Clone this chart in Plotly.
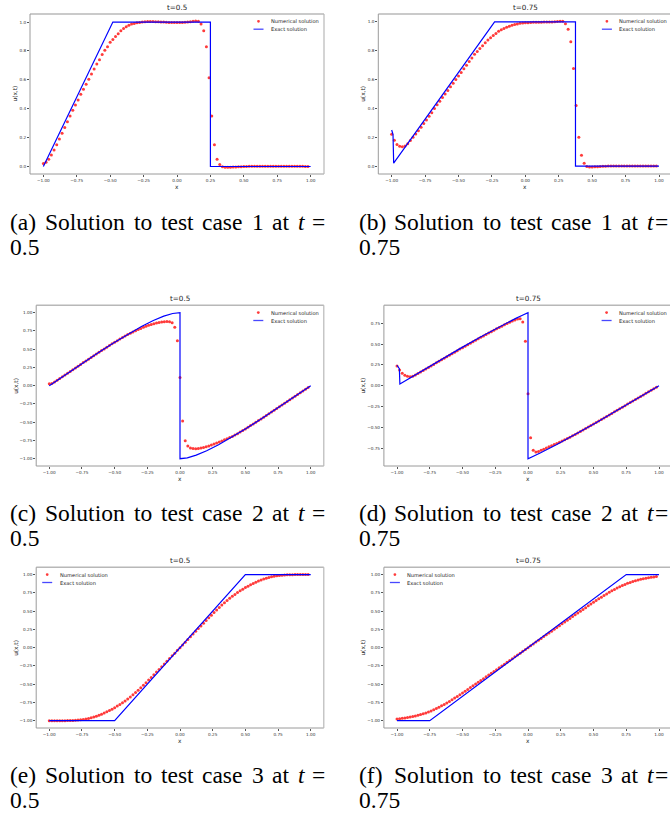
import plotly.graph_objects as go

W, H = 670, 814

# ---------------- data ----------------
X_GRID = [
    -1.00, -0.98, -0.96, -0.94, -0.92, -0.90, -0.88, -0.86, -0.84, -0.82,
    -0.80, -0.78, -0.76, -0.74, -0.72, -0.70, -0.68, -0.66, -0.64, -0.62,
    -0.60, -0.58, -0.56, -0.54, -0.52, -0.50, -0.48, -0.46, -0.44, -0.42,
    -0.40, -0.38, -0.36, -0.34, -0.32, -0.30, -0.28, -0.26, -0.24, -0.22,
    -0.20, -0.18, -0.16, -0.14, -0.12, -0.10, -0.08, -0.06, -0.04, -0.02,
    0.00, 0.02, 0.04, 0.06, 0.08, 0.10, 0.12, 0.14, 0.16, 0.18,
    0.20, 0.22, 0.24, 0.26, 0.28, 0.30, 0.32, 0.34, 0.36, 0.38,
    0.40, 0.42, 0.44, 0.46, 0.48, 0.50, 0.52, 0.54, 0.56, 0.58,
    0.60, 0.62, 0.64, 0.66, 0.68, 0.70, 0.72, 0.74, 0.76, 0.78,
    0.80, 0.82, 0.84, 0.86, 0.88, 0.90, 0.92, 0.94, 0.96, 0.98,
]

NUM_A = [
    0.02, 0.03, 0.05, 0.08, 0.115, 0.15, 0.19, 0.23, 0.27, 0.31,
    0.35, 0.39, 0.425, 0.46, 0.50, 0.535, 0.57, 0.605, 0.64, 0.675,
    0.71, 0.74, 0.775, 0.805, 0.83, 0.86, 0.88, 0.90, 0.92, 0.94,
    0.955, 0.968, 0.978, 0.986, 0.991, 0.995, 0.998, 1.0, 1.002, 1.004,
    1.004, 1.004, 1.003, 1.002, 1.001, 1.0, 0.999, 0.998, 0.998, 0.998,
    0.998, 0.998, 0.998, 0.999, 1.0, 1.002, 1.005, 1.008, 1.006, 0.986,
    0.94, 0.83, 0.615, 0.35, 0.15, 0.05, 0.013, -0.002, -0.005, -0.006,
    -0.005, -0.004, -0.003, -0.002, -0.001, 0.0, 0.0, 0.001, 0.001, 0.001,
    0.001, 0.001, 0.001, 0.001, 0.001, 0.001, 0.001, 0.001, 0.001, 0.001,
    0.001, 0.001, 0.001, 0.001, 0.001, 0.001, 0.001, 0.001, 0.0, 0.0,
]
EXACT_A_X = [-1.0, -0.48, 0.25, 0.25, 1.0]
EXACT_A_Y = [0.0, 1.0, 1.0, 0.0, 0.0]

NUM_B = [
    0.221, 0.18, 0.15, 0.138, 0.134, 0.14, 0.155, 0.177, 0.2, 0.222,
    0.245, 0.27, 0.295, 0.32, 0.345, 0.37, 0.40, 0.425, 0.45, 0.475,
    0.50, 0.525, 0.55, 0.575, 0.60, 0.625, 0.65, 0.675, 0.70, 0.725,
    0.75, 0.775, 0.795, 0.815, 0.835, 0.855, 0.875, 0.89, 0.905, 0.92,
    0.935, 0.945, 0.955, 0.963, 0.97, 0.977, 0.982, 0.986, 0.99, 0.992,
    0.994, 0.995, 0.996, 0.997, 0.997, 0.998, 0.998, 0.999, 0.999, 1.0,
    1.0, 1.001, 1.003, 1.005, 1.004, 0.988, 0.95, 0.862, 0.677, 0.42,
    0.20, 0.075, 0.02, -0.003, -0.006, -0.006, -0.005, -0.004, -0.003, -0.002,
    -0.001, 0.0, 0.0, 0.001, 0.001, 0.001, 0.001, 0.001, 0.001, 0.001,
    0.001, 0.001, 0.001, 0.001, 0.001, 0.001, 0.001, 0.001, 0.001, 0.001,
]
EXACT_B_X = [-1.0, -0.99, -0.985, -0.23, 0.375, 0.375, 1.0]
EXACT_B_Y = [0.25, 0.22, 0.02, 1.0, 1.0, 0.0, 0.0]

NUM_C = [
    0.025, 0.03, 0.049, 0.073, 0.098, 0.122, 0.146, 0.171, 0.195, 0.219,
    0.243, 0.267, 0.291, 0.316, 0.339, 0.363, 0.387, 0.41, 0.434, 0.457,
    0.48, 0.503, 0.526, 0.549, 0.572, 0.594, 0.616, 0.638, 0.659, 0.68,
    0.70, 0.718, 0.735, 0.752, 0.768, 0.784, 0.799, 0.813, 0.826, 0.838,
    0.849, 0.858, 0.866, 0.872, 0.876, 0.878, 0.874, 0.86, 0.80, 0.615,
    0.11, -0.484, -0.753, -0.826, -0.852, -0.862, -0.864, -0.861, -0.855, -0.847,
    -0.837, -0.826, -0.813, -0.80, -0.786, -0.772, -0.757, -0.742, -0.727, -0.711,
    -0.696, -0.677, -0.657, -0.636, -0.614, -0.592, -0.57, -0.547, -0.524, -0.501,
    -0.478, -0.455, -0.432, -0.408, -0.385, -0.361, -0.337, -0.314, -0.289, -0.265,
    -0.241, -0.217, -0.193, -0.169, -0.145, -0.121, -0.097, -0.073, -0.049, -0.027,
]
EXACT_C_X = [-1.0, -0.872, -0.7455, -0.623, -0.506, -0.396, -0.295, -0.204, -0.124, -0.056, 0.0,
             0.0, 0.056, 0.124, 0.204, 0.295, 0.396, 0.506, 0.623, 0.7455, 0.872, 1.0]
EXACT_C_Y = [0.0, 0.156, 0.309, 0.454, 0.588, 0.707, 0.809, 0.891, 0.951, 0.988, 1.0,
             -1.0, -0.988, -0.951, -0.891, -0.809, -0.707, -0.588, -0.454, -0.309, -0.156, 0.0]

NUM_D = [
    0.237, 0.189, 0.148, 0.124, 0.112, 0.108, 0.114, 0.128, 0.145, 0.163,
    0.181, 0.2, 0.218, 0.237, 0.255, 0.274, 0.293, 0.311, 0.33, 0.348,
    0.366, 0.385, 0.403, 0.421, 0.44, 0.457, 0.475, 0.493, 0.511, 0.529,
    0.546, 0.564, 0.581, 0.598, 0.615, 0.632, 0.649, 0.666, 0.683, 0.699,
    0.715, 0.731, 0.746, 0.761, 0.776, 0.789, 0.80, 0.803, 0.766, 0.533,
    -0.096, -0.626, -0.778, -0.798, -0.792, -0.778, -0.764, -0.75, -0.736, -0.722,
    -0.708, -0.694, -0.68, -0.665, -0.65, -0.635, -0.619, -0.602, -0.586, -0.568,
    -0.55, -0.533, -0.515, -0.497, -0.479, -0.461, -0.444, -0.425, -0.407, -0.389,
    -0.37, -0.352, -0.334, -0.315, -0.297, -0.278, -0.259, -0.241, -0.222, -0.204,
    -0.185, -0.167, -0.148, -0.129, -0.111, -0.092, -0.074, -0.055, -0.036, -0.018,
]
EXACT_D_X = [-1.0, -0.982, -0.978, -0.9329, -0.8327, -0.668, -0.5095, -0.359, -0.22, -0.093, -0.0468, 0.0,
             0.0, 0.0468, 0.093, 0.22, 0.359, 0.5095, 0.668, 0.8327, 0.9329, 1.0]
EXACT_D_Y = [0.245, 0.205, 0.02, 0.0628, 0.156, 0.309, 0.454, 0.588, 0.707, 0.809, 0.844, 0.878,
             -0.878, -0.844, -0.809, -0.707, -0.588, -0.454, -0.309, -0.156, -0.0628, 0.0]

NUM_E = [
    -1.0, -1.0, -1.0, -1.0, -1.0, -1.0, -1.0, -0.999, -0.998, -0.997,
    -0.995, -0.992, -0.988, -0.983, -0.977, -0.97, -0.961, -0.951, -0.939, -0.926,
    -0.912, -0.896, -0.879, -0.861, -0.842, -0.822, -0.80, -0.778, -0.754, -0.729,
    -0.703, -0.675, -0.646, -0.615, -0.583, -0.55, -0.516, -0.48, -0.444, -0.408,
    -0.372, -0.335, -0.298, -0.261, -0.224, -0.187, -0.15, -0.112, -0.075, -0.037,
    0.0, 0.037, 0.075, 0.112, 0.15, 0.187, 0.224, 0.261, 0.298, 0.335,
    0.372, 0.408, 0.444, 0.48, 0.516, 0.55, 0.583, 0.615, 0.646, 0.675,
    0.703, 0.729, 0.754, 0.778, 0.80, 0.822, 0.842, 0.861, 0.879, 0.896,
    0.912, 0.926, 0.939, 0.951, 0.961, 0.97, 0.977, 0.983, 0.988, 0.992,
    0.995, 0.997, 0.998, 0.999, 1.0, 1.0, 1.0, 1.0, 1.0, 1.0,
]
EXACT_E_X = [-1.0, -0.5, 0.5, 1.0]
EXACT_E_Y = [-1.0, -1.0, 1.0, 1.0]

NUM_F = [
    -0.977, -0.973, -0.968, -0.963, -0.957, -0.95, -0.943, -0.935, -0.926, -0.916,
    -0.905, -0.893, -0.88, -0.866, -0.851, -0.834, -0.816, -0.797, -0.778, -0.757,
    -0.736, -0.714, -0.691, -0.668, -0.644, -0.62, -0.596, -0.572, -0.547, -0.522,
    -0.498, -0.474, -0.449, -0.425, -0.40, -0.376, -0.351, -0.326, -0.301, -0.276,
    -0.251, -0.226, -0.201, -0.176, -0.151, -0.126, -0.101, -0.076, -0.05, -0.025,
    0.0, 0.025, 0.05, 0.076, 0.101, 0.126, 0.151, 0.176, 0.201, 0.226,
    0.251, 0.276, 0.301, 0.326, 0.351, 0.376, 0.40, 0.425, 0.449, 0.474,
    0.498, 0.522, 0.547, 0.572, 0.596, 0.62, 0.644, 0.668, 0.691, 0.714,
    0.736, 0.757, 0.778, 0.797, 0.816, 0.834, 0.851, 0.866, 0.88, 0.893,
    0.905, 0.916, 0.926, 0.935, 0.943, 0.95, 0.957, 0.963, 0.968, 0.973,
]
EXACT_F_X = [-1.0, -0.75, 0.75, 1.0]
EXACT_F_Y = [-1.0, -1.0, 1.0, 1.0]

XTICK_VALS = [-1.0, -0.75, -0.5, -0.25, 0.0, 0.25, 0.5, 0.75, 1.0]
XTICK_TEXT = ["\u22121.00", "\u22120.75", "\u22120.50", "\u22120.25", "0.00", "0.25", "0.50", "0.75", "1.00"]
YTICK_VALS_01 = [0.0, 0.2, 0.4, 0.6, 0.8, 1.0]
YTICK_TEXT_01 = ["0.0", "0.2", "0.4", "0.6", "0.8", "1.0"]
YTICK_VALS_PM1 = [-1.0, -0.75, -0.5, -0.25, 0.0, 0.25, 0.5, 0.75, 1.0]
YTICK_TEXT_PM1 = ["\u22121.00", "\u22120.75", "\u22120.50", "\u22120.25", "0.00", "0.25", "0.50", "0.75", "1.00"]
YTICK_VALS_D = [-0.75, -0.5, -0.25, 0.0, 0.25, 0.5, 0.75]
YTICK_TEXT_D = ["\u22120.75", "\u22120.50", "\u22120.25", "0.00", "0.25", "0.50", "0.75"]

TITLES = ["t=0.5", "t=0.75", "t=0.5", "t=0.75", "t=0.5", "t=0.75"]
LEGEND_LABELS = ["Numerical solution", "Exact solution"]
CAPTION_LETTERS = ["(a)", "(b)", "(c)", "(d)", "(e)", "(f)"]
CAPTION_CASES = ["1", "1", "2", "2", "3", "3"]
CAPTION_TIMES = ["0.5", "0.75", "0.5", "0.75", "0.5", "0.75"]

NUMS = [NUM_A, NUM_B, NUM_C, NUM_D, NUM_E, NUM_F]
EXACTS = [(EXACT_A_X, EXACT_A_Y), (EXACT_B_X, EXACT_B_Y), (EXACT_C_X, EXACT_C_Y),
          (EXACT_D_X, EXACT_D_Y), (EXACT_E_X, EXACT_E_Y), (EXACT_F_X, EXACT_F_Y)]
YTICKS = [(YTICK_VALS_01, YTICK_TEXT_01), (YTICK_VALS_01, YTICK_TEXT_01),
          (YTICK_VALS_PM1, YTICK_TEXT_PM1), (YTICK_VALS_D, YTICK_TEXT_D),
          (YTICK_VALS_PM1, YTICK_TEXT_PM1), (YTICK_VALS_PM1, YTICK_TEXT_PM1)]

# ---------------- layout (pixels) ----------------
PANELS = [
    dict(L=30.0, R=324.0, T=14.0, B=174.0, yr=[-0.052, 1.056], leg="right", col=0),
    dict(L=378.3, R=672.4, T=14.0, B=174.0, yr=[-0.055, 1.055], leg="right", col=1),
    dict(L=36.2, R=323.8, T=305.3, B=466.0, yr=[-1.1, 1.1], leg="right", col=0),
    dict(L=383.9, R=672.1, T=305.3, B=466.0, yr=[-0.966, 0.966], leg="right", col=1),
    dict(L=36.2, R=323.8, T=567.3, B=728.0, yr=[-1.1, 1.1], leg="left", col=0),
    dict(L=383.9, R=672.1, T=567.3, B=728.0, yr=[-1.1, 1.1], leg="left", col=1),
]
CAPTION_Y = [(222.0, 247.0), (222.0, 247.0), (513.4, 538.4), (513.4, 538.4), (775.4, 800.4), (775.4, 800.4)]
WORD_X = [8, 43, 131.6, 158.8, 200.3, 249.6, 270.3, 295.5, 310.0]
COL_OFFSET = [0, 349]

FONT = "DejaVu Sans"
SERIF = "Liberation Serif"
FRAME_COL = "#9a9a9a"


def px(x):
    return x / W


def py(y):
    return 1 - y / H


fig = go.Figure()
layout = dict(width=W, height=H, margin=dict(l=0, r=0, t=0, b=0),
              paper_bgcolor="white", plot_bgcolor="white", showlegend=False)
shapes = []
annotations = []

for i, p in enumerate(PANELS):
    n = i + 1
    xa = "xaxis" if n == 1 else f"xaxis{n}"
    ya = "yaxis" if n == 1 else f"yaxis{n}"
    xr_ref = "x" if n == 1 else f"x{n}"
    yr_ref = "y" if n == 1 else f"y{n}"
    L, R, T, B = p["L"], p["R"], p["T"], p["B"]
    Rv = min(R, W)
    xr_end = -1.1 + 2.2 * (Rv - L) / (R - L)
    layout[xa] = dict(domain=[px(L), px(Rv)], range=[-1.1, xr_end], anchor=yr_ref,
                      tickvals=XTICK_VALS, ticktext=XTICK_TEXT, ticks="outside", ticklen=2,
                      tickwidth=0.6, tickcolor="#555",
                      tickfont=dict(family=FONT, size=4.2, color="#333"),
                      showgrid=False, zeroline=False, showline=False, fixedrange=True)
    yv, yt = YTICKS[i]
    layout[ya] = dict(domain=[py(B), py(T)], range=p["yr"], anchor=xr_ref,
                      tickvals=yv, ticktext=yt, ticks="outside", ticklen=2,
                      tickwidth=0.6, tickcolor="#555",
                      tickfont=dict(family=FONT, size=4.2, color="#333"),
                      showgrid=False, zeroline=False, showline=False, fixedrange=True)

    fig.add_trace(go.Scatter(x=X_GRID, y=NUMS[i], mode="markers",
                             marker=dict(size=3, color="rgba(255,25,25,0.85)", line=dict(width=0)),
                             xaxis=xr_ref, yaxis=yr_ref, hoverinfo="skip"))
    ex, ey = EXACTS[i]
    fig.add_trace(go.Scatter(x=ex, y=ey, mode="lines",
                             line=dict(color="#0000ff", width=1.2),
                             xaxis=xr_ref, yaxis=yr_ref, hoverinfo="skip"))

    # frame
    shapes.append(dict(type="line", xref="paper", yref="paper", x0=px(L), x1=px(Rv), y0=py(T), y1=py(T),
                       line=dict(color="#b8b8b8", width=1.4)))
    shapes.append(dict(type="line", xref="paper", yref="paper", x0=px(L), x1=px(Rv), y0=py(B), y1=py(B),
                       line=dict(color=FRAME_COL, width=1)))
    shapes.append(dict(type="line", xref="paper", yref="paper", x0=px(L), x1=px(L), y0=py(B), y1=py(T),
                       line=dict(color=FRAME_COL, width=1)))
    if R <= W:
        shapes.append(dict(type="line", xref="paper", yref="paper", x0=px(R), x1=px(R), y0=py(B), y1=py(T),
                           line=dict(color="#b8b8b8", width=1.2)))

    # title
    annotations.append(dict(text=TITLES[i], x=px((L + R) / 2), y=py(T - 6.5), xref="paper", yref="paper",
                            showarrow=False, xanchor="center", yanchor="middle",
                            font=dict(family=FONT, size=7.2, color="#222")))
    # axis labels
    annotations.append(dict(text="x", x=px((L + R) / 2), y=py(B + 12.7), xref="paper", yref="paper",
                            showarrow=False, xanchor="center", yanchor="middle",
                            font=dict(family=FONT, size=5.8, color="#222")))
    annotations.append(dict(text="u(x,t)", x=px(L - (15.5 if i < 2 else 21)), y=py((T + B) / 2),
                            xref="paper", yref="paper", textangle=-90,
                            showarrow=False, xanchor="center", yanchor="middle",
                            font=dict(family=FONT, size=5.8, color="#222")))

    # legend (drawn manually)
    if p["leg"] == "right":
        mx = R - 65.5
    else:
        mx = L + 11.0
    r1, r2 = T + 7.3, T + 15.2
    shapes.append(dict(type="circle", xref="paper", yref="paper",
                       x0=px(mx - 1.4), x1=px(mx + 1.4), y0=py(r1 + 1.4), y1=py(r1 - 1.4),
                       fillcolor="rgba(255,25,25,0.85)", line=dict(width=0)))
    shapes.append(dict(type="line", xref="paper", yref="paper",
                       x0=px(mx - 5), x1=px(mx + 5), y0=py(r2), y1=py(r2),
                       line=dict(color="rgba(40,40,255,0.85)", width=1.3)))
    for lab, ry in zip(LEGEND_LABELS, (r1, r2)):
        annotations.append(dict(text=lab, x=px(mx + 10.5), y=py(ry), xref="paper", yref="paper",
                                showarrow=False, xanchor="left", yanchor="middle",
                                font=dict(family=FONT, size=5.1, color="#222")))

    # caption (justified line, one annotation per word)
    words = [CAPTION_LETTERS[i], "Solution", "to", "test", "case", CAPTION_CASES[i], "at", "<i>t</i>", "="]
    off = COL_OFFSET[p["col"]]
    y1c, y2c = CAPTION_Y[i]
    for k, (wtxt, wx) in enumerate(zip(words, WORD_X)):
        xpos = wx + off
        anchor = "left"
        if k == len(words) - 1 and p["col"] == 1:
            xpos, anchor = 669.5, "right"
        annotations.append(dict(text=wtxt, x=px(xpos), y=py(y1c), xref="paper", yref="paper",
                                showarrow=False, xanchor=anchor, yanchor="middle",
                                font=dict(family=SERIF, size=23.5, color="black")))
    annotations.append(dict(text=CAPTION_TIMES[i], x=px(8 + off), y=py(y2c), xref="paper", yref="paper",
                            showarrow=False, xanchor="left", yanchor="middle",
                            font=dict(family=SERIF, size=23.5, color="black")))

layout["shapes"] = shapes
layout["annotations"] = annotations
fig.update_layout(**layout)
fig.write_html("out.html", config={"displayModeBar": False},
               post_script="document.body.style.margin='0px';document.body.style.overflow='hidden';")
